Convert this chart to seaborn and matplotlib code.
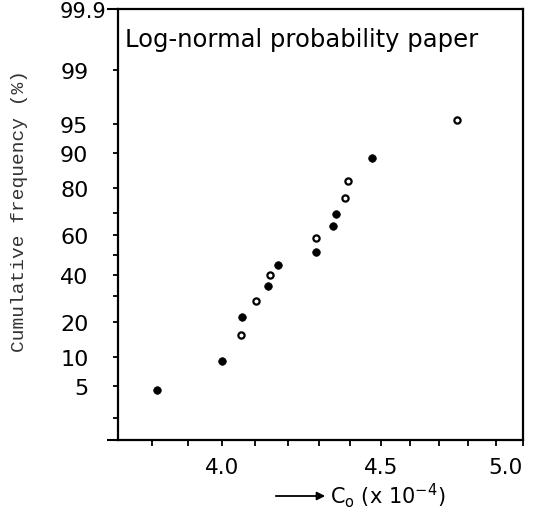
import numpy as np
import pandas as pd
import matplotlib
matplotlib.use("Agg")
import matplotlib.pyplot as plt
import seaborn as sns
from statistics import NormalDist

# ---- data ----
conc = [3.814, 4.002, 4.058, 4.061, 4.104, 4.140, 4.147, 4.171,
        4.289, 4.289, 4.345, 4.352, 4.384, 4.392, 4.471, 4.762]
freq = [4.4, 9.0, 15.6, 21.8, 28.2, 34.7, 40.1, 44.7,
        51.6, 58.3, 64.2, 69.5, 76.1, 82.4, 88.8, 95.5]
kind = ["filled", "filled", "open", "filled", "open", "filled", "open", "filled",
        "filled", "open", "filled", "filled", "open", "open", "filled", "open"]

x_ticks = [3.8, 3.9, 4.0, 4.1, 4.2, 4.3, 4.4, 4.5, 4.6, 4.7, 4.8, 4.9, 5.0]
x_labels = ["", "", "4.0", "", "", "", "", "4.5", "", "", "", "", "5.0"]
y_ticks = [2, 5, 10, 20, 30, 40, 50, 60, 70, 80, 90, 95, 99]
y_labels = ["", "5", "10", "20", "", "40", "", "60", "", "80", "90", "95", "99"]
y_minor = [1, 99.9]
y_minor_labels = ["", "99.9"]

df = pd.DataFrame({"conc": conc, "freq": freq, "kind": kind})

# ---- probability scale ----
_nd = NormalDist()
_ppf = np.vectorize(lambda p: _nd.inv_cdf(min(max(p / 100.0, 1e-9), 1 - 1e-9)), otypes=[float])
_cdf = np.vectorize(lambda z: _nd.cdf(z) * 100.0, otypes=[float])

def fwd(p):
    return _ppf(np.asarray(p, dtype=float))

def inv(z):
    return _cdf(np.asarray(z, dtype=float))

sns.set_style("ticks")
plt.rcParams["font.family"] = ["DejaVu Sans"]
plt.rcParams["mathtext.fontset"] = "dejavusans"

W, H = 535, 510
fig = plt.figure(figsize=(W / 100, H / 100), dpi=100)
ax = fig.add_axes([118.3 / W, 1 - 440.7 / H, (523 - 118.3) / W, (440.7 - 10) / H])

ax.set_xscale("log")
ax.set_yscale("function", functions=(fwd, inv))

sns.scatterplot(data=df[df["kind"] == "filled"], x="conc", y="freq", ax=ax,
                color="black", edgecolor="black", s=30, linewidth=0.5, legend=False)
sns.scatterplot(data=df[df["kind"] == "open"], x="conc", y="freq", ax=ax,
                color="white", edgecolor="black", s=20, linewidth=1.6, legend=False)

ax.set_xlim(3.705, 5.0)
ax.set_ylim(1, 99.9)

ax.set_xticks(x_ticks)
ax.set_xticklabels(x_labels)
ax.xaxis.set_minor_locator(matplotlib.ticker.NullLocator())
ax.set_yticks(y_ticks)
ax.set_yticklabels(y_labels)
ax.set_yticks(y_minor, minor=True)
ax.set_yticklabels(y_minor_labels, minor=True)

ax.tick_params(axis="x", which="major", direction="out", length=4, width=1.3,
               pad=8.5, labelsize=15.5, colors="black")
ax.tick_params(axis="y", which="major", direction="out", length=3.5, width=1.3,
               pad=18, labelsize=16, colors="black")
ax.tick_params(axis="y", which="minor", direction="out", length=8, width=1.5,
               pad=0.5, labelsize=15, colors="black")
xl = ax.get_xticklabels()
xl[-1].set_horizontalalignment("right")

for s in ax.spines.values():
    s.set_visible(True)
    s.set_linewidth(1.6)
    s.set_color("black")

ax.set_xlabel("")
ax.set_ylabel("")

ax.text(0.0166, 0.914, "Log-normal probability paper", transform=ax.transAxes,
        fontsize=17.5, ha="left", va="baseline", color="black")

fig.text(20 / W, 1 - 211 / H, "Cumulative frequency (%)", rotation=90,
         ha="center", va="center", fontsize=14, family="Liberation Mono",
         color="#333333")

# x label with arrow
fig.patches.append(matplotlib.patches.FancyArrowPatch(
    (273 / W, 1 - 497 / H), (328 / W, 1 - 497 / H), transform=fig.transFigure,
    arrowstyle="-|>", mutation_scale=12, lw=1.3, color="black"))
fig.text(330 / W, 1 - 504 / H, r"C$_\mathregular{o}$ (x 10$^{-4}$)", ha="left",
         va="baseline", fontsize=15, color="black")

fig.savefig("out.png", dpi=100)
